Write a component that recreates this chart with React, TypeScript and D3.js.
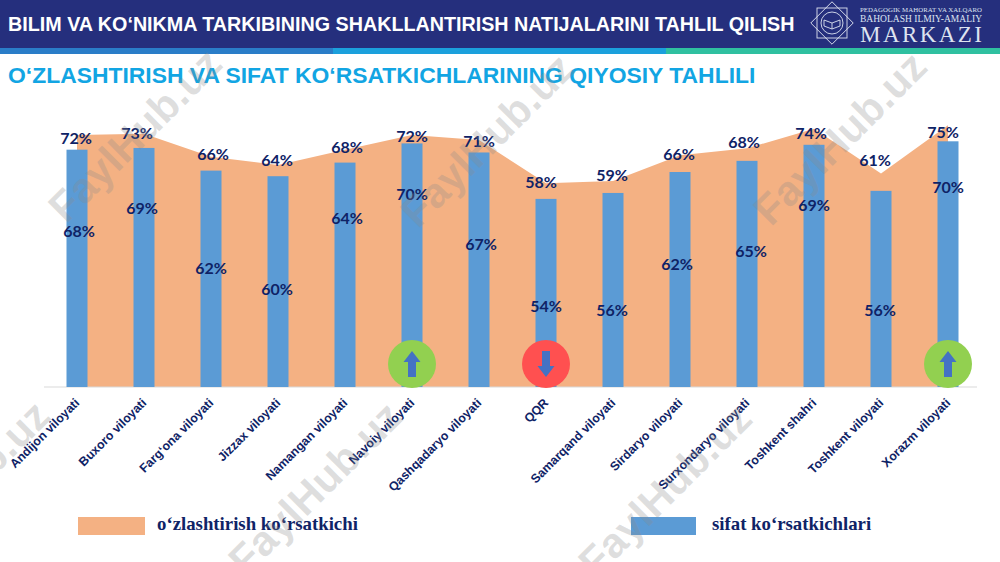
import React, { useEffect, useRef } from 'react';
import * as d3 from 'd3';

const regions = [
  'Andijon viloyati', 'Buxoro viloyati', 'Farg‘ona viloyati', 'Jizzax viloyati',
  'Namangan viloyati', 'Navoiy viloyati', 'Qashqadaryo viloyati', 'QQR',
  'Samarqand viloyati', 'Sirdaryo viloyati', 'Surxondaryo viloyati',
  'Toshkent shahri', 'Toshkent viloyati', 'Xorazm viloyati',
];
const mastery = [72.2, 72.6, 66, 63.6, 68, 72.2, 70.8, 58.4, 59, 66.4, 68.4, 74, 61.2, 75];
const quality = [68, 68.5, 62, 60.4, 64.3, 69.8, 67.2, 53.9, 55.6, 61.6, 64.8, 69.4, 56.2, 70.4];

// labels sit wherever the slide author dragged them, so these are hand offsets
const masteryLabelDx = [-1, -7, 2, -1, 2, 0, 0, -5, -1, -1, -3, -3, -6, -5];
const masteryLabelDy = [2, -1, -3, -6, -3, 0, 1, -2, -7, -2, -7, 4, -14, 6];
const qualityLabelDx = [2, -2, 0, -1, 2, 0, 2, 0, -1, -3, 4, 0, -1, 0];
const qualityLabelDrop = [81, 60, 97, 112, 55, 50, 91, 107, 117, 91, 90, 60, 119, 45];

const arrows = [
  { region: 'Navoiy viloyati', dir: 'up', color: '#92D050' },
  { region: 'QQR', dir: 'down', color: '#FF5050' },
  { region: 'Xorazm viloyati', dir: 'up', color: '#92D050' },
];
const watermarks = [
  { x: 135, y: 135 }, { x: 487, y: 140 }, { x: 840, y: 138 },
  { x: -37, y: 487 }, { x: 315, y: 488 }, { x: 665, y: 490 },
];

const NAVY = '#0F2366';

const App = () => {
  const ref = useRef<SVGSVGElement>(null);

  useEffect(() => {
    const svg = d3.select(ref.current);
    svg.selectAll('*').remove();

    // header
    svg.append('rect').attr('width', 1000).attr('height', 48).attr('fill', '#252F7D');
    svg.append('rect').attr('y', 48).attr('width', 333).attr('height', 6).attr('fill', '#2A7DC8');
    svg.append('rect').attr('x', 333).attr('y', 48).attr('width', 333).attr('height', 6).attr('fill', '#1BA0DC');
    svg.append('rect').attr('x', 666).attr('y', 48).attr('width', 334).attr('height', 6).attr('fill', '#2FC0A0');
    svg.append('text').attr('x', 8).attr('y', 31)
      .attr('font-family', 'Liberation Sans').attr('font-weight', 700).attr('font-size', 19.73)
      .attr('fill', '#fff')
      .text('BILIM VA KO‘NIKMA TARKIBINING SHAKLLANTIRISH NATIJALARINI TAHLIL QILISH');
    svg.append('text').attr('x', 8).attr('y', 83)
      .attr('font-family', 'Liberation Sans').attr('font-weight', 700).attr('font-size', 22.9)
      .attr('fill', '#12A5E3')
      .text('O‘ZLASHTIRISH VA SIFAT KO‘RSATKICHLARINING QIYOSIY TAHLILI');

    // logo
    const logo = svg.append('g').attr('transform', 'translate(832,23)')
      .attr('fill', 'none').attr('stroke', '#DDE3F0').attr('stroke-width', 0.9);
    logo.append('rect').attr('x', -15).attr('y', -15).attr('width', 30).attr('height', 30);
    logo.append('rect').attr('x', -15).attr('y', -15).attr('width', 30).attr('height', 30).attr('transform', 'rotate(45)');
    logo.append('circle').attr('r', 11);
    logo.append('path').attr('d', 'M-8,3 L0,6 L8,3 L8,-3 L0,0 L-8,-3 Z M0,0 L0,6');
    const logoText = svg.append('g').attr('font-family', 'Liberation Serif').attr('fill', '#DDE3F0');
    logoText.append('text').attr('x', 860).attr('y', 12).attr('font-size', 6.8).attr('textLength', 122).text('PEDAGOGIK MAHORAT VA XALQARO');
    logoText.append('text').attr('x', 860).attr('y', 21.5).attr('font-size', 9.5).attr('textLength', 122).text('BAHOLASH ILMIY-AMALIY');
    logoText.append('text').attr('x', 860).attr('y', 42).attr('font-size', 23).attr('textLength', 122).text('MARKAZI');

    // chart
    const x = d3.scalePoint<string>().domain(regions).range([77, 948]);
    const y = d3.scaleLinear().domain([0, 100]).range([387, 38]);
    const barWidth = 21;
    const xOf = (r: string) => x(r) as number;

    const area = d3.area<number>()
      .x((_, i) => xOf(regions[i]))
      .y0(y(0))
      .y1(d => y(d));
    svg.append('path').datum(mastery).attr('d', area).attr('fill', '#F4B183');

    svg.append('line').attr('x1', 44).attr('x2', 977).attr('y1', y(0)).attr('y2', y(0))
      .attr('stroke', '#D9D9D9').attr('stroke-width', 1);

    svg.append('g').selectAll('rect').data(quality).join('rect')
      .attr('x', (_, i) => xOf(regions[i]) - barWidth / 2)
      .attr('y', d => y(d))
      .attr('width', barWidth)
      .attr('height', d => y(0) - y(d))
      .attr('fill', '#5B9BD5');

    // arrow badges
    const badge = svg.append('g').selectAll('g').data(arrows).join('g')
      .attr('transform', d => `translate(${xOf(d.region)},${y(0) - 23})`);
    badge.append('circle').attr('r', 24).attr('fill', d => d.color);
    badge.append('path')
      .attr('d', 'M0,-13 L-8.5,-2 L-4,-2 L-4,13 L4,13 L4,-2 L8.5,-2 Z')
      .attr('transform', d => (d.dir === 'down' ? 'rotate(180)' : ''))
      .attr('fill', '#4472C4');

    // value labels
    const labelStyle = (sel: any) => sel
      .attr('font-family', 'Lato').attr('font-weight', 700).attr('font-size', 16)
      .attr('fill', NAVY).attr('text-anchor', 'middle').attr('dominant-baseline', 'central');
    svg.append('g').call(labelStyle).selectAll('text').data(mastery).join('text')
      .attr('x', (_, i) => xOf(regions[i]) + masteryLabelDx[i])
      .attr('y', (d, i) => y(d) + masteryLabelDy[i])
      .text(d => `${Math.round(d)}%`);
    svg.append('g').call(labelStyle).selectAll('text').data(quality).join('text')
      .attr('x', (_, i) => xOf(regions[i]) + qualityLabelDx[i])
      .attr('y', (d, i) => y(d) + qualityLabelDrop[i])
      .text(d => `${Math.round(d)}%`);

    // category axis
    const axis = svg.append('g').attr('transform', `translate(0,${y(0)})`)
      .call(d3.axisBottom(x).tickSize(0));
    axis.select('.domain').remove();
    axis.selectAll('text')
      .attr('font-family', 'Liberation Sans').attr('font-weight', 700).attr('font-size', 12.4)
      .attr('fill', NAVY)
      .attr('text-anchor', 'end')
      .attr('transform', 'translate(0,14) rotate(-45)')
      .attr('dy', '0.3em').attr('y', 0);

    // legend
    const legend = svg.append('g').attr('font-family', 'Liberation Serif').attr('font-weight', 700)
      .attr('font-size', 18.8).attr('fill', NAVY);
    legend.append('rect').attr('x', 78).attr('y', 517).attr('width', 67).attr('height', 18).attr('fill', '#F4B183');
    legend.append('text').attr('x', 157).attr('y', 530).text('o‘zlashtirish ko‘rsatkichi');
    legend.append('rect').attr('x', 631).attr('y', 517).attr('width', 65).attr('height', 18).attr('fill', '#5B9BD5');
    legend.append('text').attr('x', 712).attr('y', 530).text('sifat ko‘rsatkichlari');

    // watermark
    svg.append('g').selectAll('text').data(watermarks).join('text')
      .attr('transform', d => `translate(${d.x},${d.y}) rotate(-45)`)
      .attr('text-anchor', 'middle').attr('dominant-baseline', 'central')
      .attr('font-family', 'Liberation Sans').attr('font-weight', 700).attr('font-size', 42)
      .attr('fill', '#8c8c8c').attr('fill-opacity', 0.28)
      .text('FaylHub.uz');
  }, []);

  return <svg ref={ref} width={1000} height={562} style={{ position: 'absolute', left: 0, top: 0, background: '#fff' }} />;
};

export default App;
